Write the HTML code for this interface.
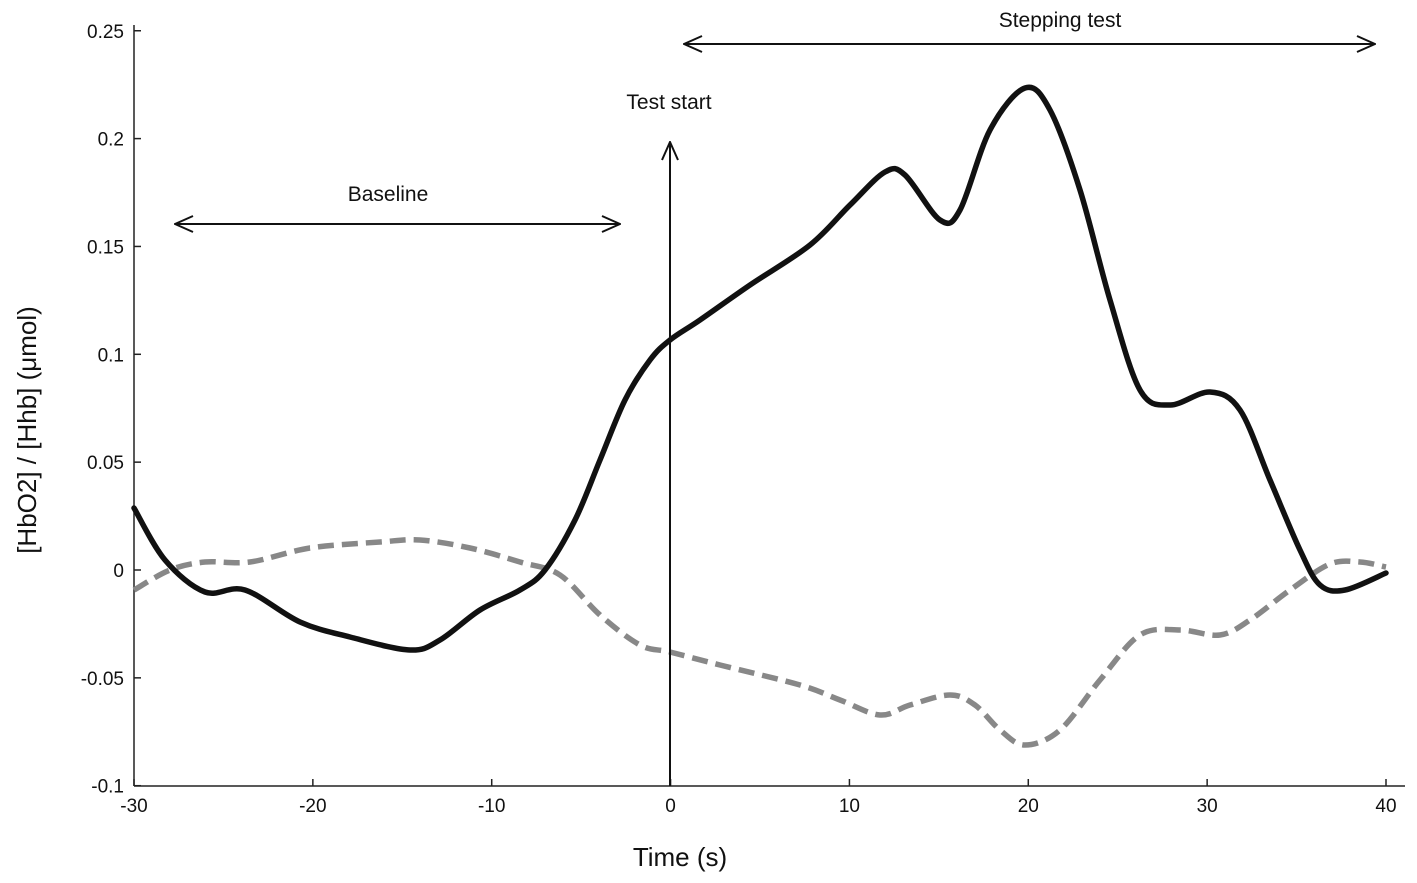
<!DOCTYPE html>
<html><head><meta charset="utf-8"><style>
body{margin:0;background:#fff}
svg text{font-family:"Liberation Sans","DejaVu Sans",sans-serif;fill:#111}
</style></head><body>
<svg id="s" width="1417" height="878" viewBox="0 0 1417 878" xmlns="http://www.w3.org/2000/svg">
<defs>
<marker id="ah" viewBox="0 0 20 20" refX="19" refY="10" markerWidth="20" markerHeight="20" markerUnits="userSpaceOnUse" orient="auto-start-reverse">
<path d="M1,2 L19,10 L1,18" fill="none" stroke="#111" stroke-width="2"/>
</marker>
</defs>
<g stroke="#222" stroke-width="1.5" fill="none">
<line x1="134" y1="786" x2="1405" y2="786"/>
<line x1="134" y1="25" x2="134" y2="786"/>
</g>
<g stroke="#222" stroke-width="1.5" id="ticks"></g>
<g font-size="19" text-anchor="end" id="yl"></g>
<g font-size="19" text-anchor="middle" id="xl"></g>
<text x="680" y="866" font-size="26" text-anchor="middle">Time (s)</text>
<text transform="translate(36,430) rotate(-90)" font-size="26" text-anchor="middle">[HbO2] / [Hhb] (μmol)</text>
<path id="gray" fill="none" stroke="#888" stroke-width="5.5" stroke-dasharray="16,8"/>
<path id="blk" fill="none" stroke="#111" stroke-width="5.5" stroke-linejoin="round" stroke-linecap="round"/>
<line x1="670" y1="786" x2="670" y2="142" stroke="#111" stroke-width="2" marker-end="url(#ah)"/>
<line x1="175" y1="224" x2="620" y2="224" stroke="#111" stroke-width="2" marker-start="url(#ah)" marker-end="url(#ah)"/>
<line x1="684" y1="44" x2="1375" y2="44" stroke="#111" stroke-width="2" marker-start="url(#ah)" marker-end="url(#ah)"/>
<text x="388" y="201" font-size="21" text-anchor="middle">Baseline</text>
<text x="669" y="109" font-size="21" text-anchor="middle">Test start</text>
<text x="1060" y="27" font-size="21" text-anchor="middle">Stepping test</text>
</svg>
<script>
const ns="http://www.w3.org/2000/svg";
function px(v){return 134+(v+30)*1252/70}
function py(v){return 570-v*2157}
const yl=document.getElementById('yl'),xl=document.getElementById('xl'),tk=document.getElementById('ticks');
[0.25,0.2,0.15,0.1,0.05,0,-0.05,-0.1].forEach(v=>{const t=document.createElementNS(ns,'text');t.setAttribute('x',124);t.setAttribute('y',py(v)+7);t.textContent=v===0?'0':String(v);yl.appendChild(t);
const l=document.createElementNS(ns,'line');l.setAttribute('x1',134);l.setAttribute('x2',141);l.setAttribute('y1',py(v));l.setAttribute('y2',py(v));tk.appendChild(l);});
[-30,-20,-10,0,10,20,30,40].forEach(v=>{const t=document.createElementNS(ns,'text');t.setAttribute('x',px(v));t.setAttribute('y',812);t.textContent=v;xl.appendChild(t);
const l=document.createElementNS(ns,'line');l.setAttribute('x1',px(v));l.setAttribute('x2',px(v));l.setAttribute('y1',786);l.setAttribute('y2',779);tk.appendChild(l);});
function cr(p){let d="M"+p[0][0]+","+p[0][1];for(let i=0;i<p.length-1;i++){const a=p[i-1]||p[i],b=p[i],c=p[i+1],e=p[i+2]||c;
d+=` C${b[0]+(c[0]-a[0])/6},${b[1]+(c[1]-a[1])/6} ${c[0]-(e[0]-b[0])/6},${c[1]-(e[1]-b[1])/6} ${c[0]},${c[1]}`;}return d}
const B=[[134,508],[165,560],[205,592],[245,590],[300,622],[350,637],[410,650],[440,640],[480,610],[520,590],[545,570],[575,520],[600,460],[625,400],[650,360],[670,340],[700,320],[750,285],[810,245],[850,205],[885,172],[905,175],[940,220],[960,210],[990,130],[1025,88],[1050,110],[1080,190],[1110,300],[1140,390],[1170,405],[1210,392],[1240,410],[1270,480],[1300,550],[1320,585],[1345,590],[1386,573]];
const G=[[134,590],[170,570],[205,562],[250,562],[310,548],[380,542],[420,540],[470,548],[520,562],[560,575],[600,615],[640,645],[670,652],[720,665],[800,685],[840,700],[880,715],[910,705],[950,695],[975,705],[1000,730],[1025,745],[1060,730],[1100,680],[1140,635],[1180,630],[1220,635],[1250,620],[1290,590],[1330,564],[1360,562],[1386,567]];
document.getElementById('blk').setAttribute('d',cr(B));
document.getElementById('gray').setAttribute('d',cr(G));
</script>
</body></html>
